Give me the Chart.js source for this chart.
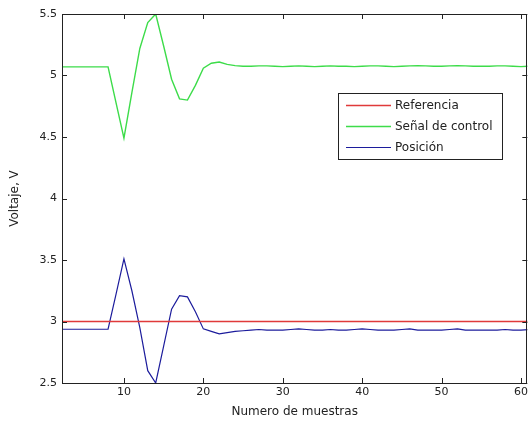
<!DOCTYPE html>
<html>
<head>
<meta charset="utf-8">
<script src="https://cdn.jsdelivr.net/npm/chart.js@4"></script>
<style>
html,body{margin:0;padding:0;background:#fff;}
#wrap{width:531px;height:423px;position:relative;}
</style>
</head>
<body>
<div id="wrap"><canvas id="c" width="531" height="423"></canvas></div>
<script>
const muestras = [2,3,4,5,6,7,8,9,10,11,12,13,14,15,16,17,18,19,20,21,22,23,24,25,26,27,28,29,30,31,32,33,34,35,36,37,38,39,40,41,42,43,44,45,46,47,48,49,50,51,52,53,54,55,56,57,58,59,60,61];
const referencia = muestras.map(() => 3);
const senalControl = [5.07,5.07,5.07,5.07,5.07,5.07,5.07,4.78,4.49,4.86,5.22,5.43,5.50,5.24,4.97,4.81,4.80,4.92,5.06,5.10,5.11,5.09,5.08,
  5.075,5.075,5.078,5.078,5.075,5.072,5.075,5.078,5.075,5.072,
  5.075,5.078,5.075,5.075,5.072,5.075,5.078,5.078,5.075,5.072,
  5.075,5.078,5.080,5.078,5.075,5.075,5.078,5.080,5.078,5.075,
  5.075,5.075,5.078,5.078,5.075,5.072,5.075];
const posicion = [2.937,2.937,2.937,2.937,2.937,2.937,2.937,3.22,3.51,3.25,2.95,2.60,2.50,2.80,3.10,3.21,3.20,3.08,2.94,2.92,2.90,2.91,2.92,
  2.925,2.93,2.935,2.93,2.93,2.93,2.935,2.94,2.935,2.93,
  2.93,2.935,2.93,2.93,2.935,2.94,2.935,2.93,2.93,2.93,
  2.935,2.94,2.93,2.93,2.93,2.93,2.935,2.94,2.93,2.93,
  2.93,2.93,2.93,2.935,2.93,2.93,2.935];
const xTicks = [10,20,30,40,50,60];
const yTicks = [2.5,3,3.5,4,4.5,5,5.5];
const seriesNames = ['Referencia','Señal de control','Posición'];
const seriesColors = ['#e03a3a','#3ddc4a','#1c1c9c'];
const seriesWidths = [1.6,1.4,1.2];

const pts = (ys) => muestras.map((x,i) => ({x:x, y:ys[i]}));

const FONT = '"DejaVu Sans", sans-serif';

const boxPlugin = {
  id:'box',
  afterDraw(chart){
    const {ctx, chartArea:a, scales} = chart;
    ctx.save();
    ctx.strokeStyle = '#222';
    ctx.lineWidth = 1;
    ctx.strokeRect(Math.round(a.left)+0.5, Math.round(a.top)+0.5, Math.round(a.right-a.left)-1, Math.round(a.bottom-a.top));
    const L = 5;
    ctx.beginPath();
    xTicks.forEach(v => {
      const px = Math.round(scales.x.getPixelForValue(v))+0.5;
      ctx.moveTo(px, a.bottom); ctx.lineTo(px, a.bottom-L);
      ctx.moveTo(px, a.top); ctx.lineTo(px, a.top+L);
    });
    yTicks.forEach(v => {
      const py = Math.round(scales.y.getPixelForValue(v))+0.5;
      ctx.moveTo(a.left, py); ctx.lineTo(a.left+L, py);
      ctx.moveTo(a.right, py); ctx.lineTo(a.right-L, py);
    });
    ctx.stroke();
    // legend
    const lx = 338, ly = 93, lw = 164, lh = 66;
    ctx.fillStyle = '#fff';
    ctx.fillRect(lx, ly, lw, lh);
    ctx.strokeStyle = '#222';
    ctx.lineWidth = 1;
    ctx.strokeRect(lx+0.5, ly+0.5, lw, lh);
    ctx.font = '12px ' + FONT;
    ctx.textBaseline = 'middle';
    seriesNames.forEach((n,i) => {
      const yy = ly + 12 + i*21 + 0.5;
      ctx.strokeStyle = seriesColors[i];
      ctx.lineWidth = seriesWidths[i];
      ctx.beginPath(); ctx.moveTo(lx+8, yy); ctx.lineTo(lx+53, yy); ctx.stroke();
      ctx.fillStyle = '#222';
      ctx.fillText(n, lx+57, yy);
    });
    ctx.restore();
  }
};

new Chart(document.getElementById('c'), {
  type:'line',
  data:{
    datasets:[
      {label:seriesNames[0], data:pts(referencia), borderColor:seriesColors[0], borderWidth:seriesWidths[0], pointRadius:0, tension:0},
      {label:seriesNames[1], data:pts(senalControl), borderColor:seriesColors[1], borderWidth:seriesWidths[1], pointRadius:0, tension:0},
      {label:seriesNames[2], data:pts(posicion), borderColor:seriesColors[2], borderWidth:seriesWidths[2], pointRadius:0, tension:0}
    ]
  },
  options:{
    responsive:false,
    animation:false,
    layout:{padding:{top:14,right:2,left:0,bottom:0}},
    plugins:{legend:{display:false}, tooltip:{enabled:false}},
    scales:{
      x:{
        type:'linear', min:2.2, max:60.8,
        afterBuildTicks(s){ s.ticks = xTicks.map(v=>({value:v})); },
        afterFit(s){ s.height = 40; },
        grid:{display:false, drawTicks:false},
        border:{display:false},
        ticks:{color:'#222', font:{family:FONT, size:11}, padding:3, maxRotation:0, callback:(v)=>String(v)},
        title:{display:true, text:'Numero de muestras', color:'#222', font:{family:FONT, size:12}, padding:{top:0,bottom:4}}
      },
      y:{
        type:'linear', min:2.5, max:5.5,
        afterBuildTicks(s){ s.ticks = yTicks.map(v=>({value:v})); },
        afterFit(s){ s.width = 62; },
        grid:{display:false, drawTicks:false},
        border:{display:false},
        ticks:{color:'#222', font:{family:FONT, size:11}, padding:5, callback:(v)=>String(v)},
        title:{display:true, text:'Voltaje, V', color:'#222', font:{family:FONT, size:12}, padding:{top:8,bottom:0}}
      }
    }
  },
  plugins:[boxPlugin]
});
</script>
</body>
</html>
